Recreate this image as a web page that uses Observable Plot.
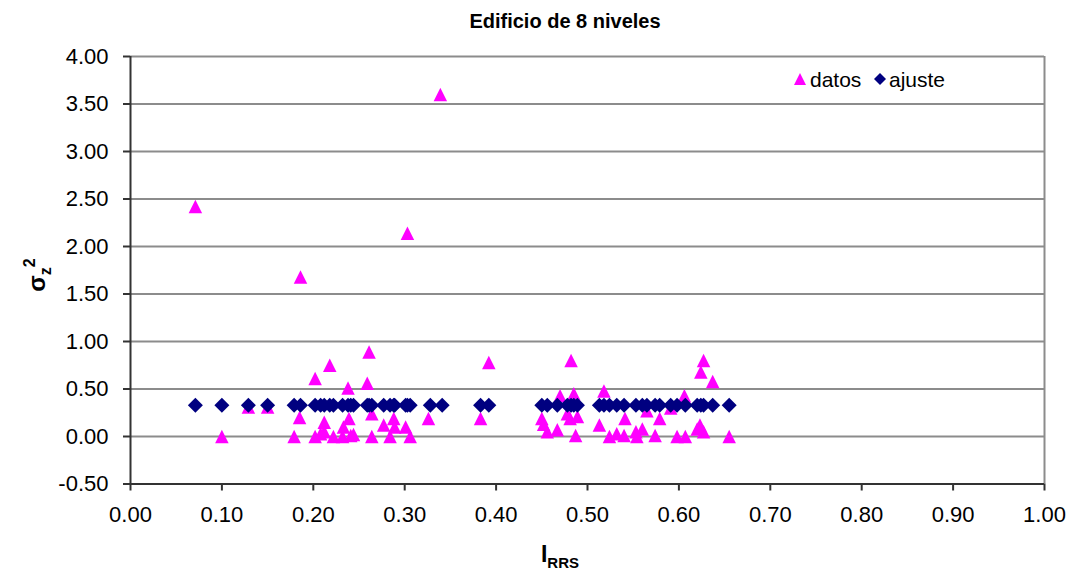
<!DOCTYPE html>
<html>
<head>
<meta charset="utf-8">
<script src="https://cdn.jsdelivr.net/npm/d3@7"></script>
<script src="https://cdn.jsdelivr.net/npm/@observablehq/plot@0.6"></script>
<style>
  body { margin: 0; background: #fff; }
  #chart { width: 1076px; height: 577px; }
</style>
</head>
<body>
<div id="chart"></div>
<script>
// Texts
const titulo = "Edificio de 8 niveles";
const serieDatos = "datos";
const serieAjuste = "ajuste";

// Axis ticks
const xTicks = [0, 0.1, 0.2, 0.3, 0.4, 0.5, 0.6, 0.7, 0.8, 0.9, 1.0];
const yTicks = [-0.5, 0, 0.5, 1.0, 1.5, 2.0, 2.5, 3.0, 3.5, 4.0];

// Observed values (I_RRS, sigma_z^2)
const datosX = [0.071, 0.100, 0.129, 0.150, 0.179, 0.185, 0.186, 0.202, 0.202, 0.208,
  0.212, 0.212, 0.218, 0.222, 0.232, 0.233, 0.238, 0.239, 0.241, 0.244,
  0.259, 0.261, 0.264, 0.264, 0.277, 0.284, 0.288, 0.289, 0.301, 0.303,
  0.306, 0.326, 0.339, 0.383, 0.392, 0.450, 0.452, 0.456, 0.467, 0.470,
  0.478, 0.481, 0.482, 0.485, 0.487, 0.489, 0.513, 0.518, 0.524, 0.532,
  0.540, 0.541, 0.553, 0.554, 0.560, 0.565, 0.574, 0.579, 0.591, 0.598,
  0.606, 0.607, 0.620, 0.623, 0.624, 0.627, 0.627, 0.637, 0.655];
const datosY = [2.42, 0.00, 0.31, 0.31, 0.00, 0.20, 1.68, 0.61, 0.00, 0.03,
  0.05, 0.15, 0.75, 0.00, 0.00, 0.10, 0.51, 0.19, 0.01, 0.02,
  0.56, 0.89, 0.24, 0.00, 0.12, 0.00, 0.19, 0.10, 0.10, 2.14,
  0.00, 0.19, 3.60, 0.19, 0.78, 0.19, 0.13, 0.05, 0.07, 0.43,
  0.24, 0.19, 0.80, 0.45, 0.01, 0.21, 0.12, 0.48, 0.00, 0.03,
  0.01, 0.19, 0.05, 0.00, 0.08, 0.27, 0.01, 0.19, 0.30, 0.00,
  0.43, 0.00, 0.08, 0.12, 0.68, 0.80, 0.05, 0.58, 0.00];

// Fitted values: constant fit evaluated at each I_RRS
const ajusteX = [0.071, 0.100, 0.129, 0.150, 0.179, 0.186, 0.202, 0.208, 0.212, 0.218,
  0.222, 0.232, 0.238, 0.241, 0.244, 0.259, 0.261, 0.264, 0.277, 0.284,
  0.288, 0.289, 0.301, 0.303, 0.306, 0.328, 0.341, 0.383, 0.392, 0.450,
  0.456, 0.467, 0.478, 0.482, 0.485, 0.489, 0.513, 0.518, 0.524, 0.532,
  0.540, 0.553, 0.560, 0.565, 0.574, 0.579, 0.591, 0.598, 0.607, 0.620,
  0.624, 0.627, 0.637, 0.655];
const ajusteValor = 0.33;

const datos = datosX.map((x, i) => ({x, y: datosY[i]}));
const ajuste = ajusteX.map(x => ({x, y: ajusteValor}));

// Marker shapes (width = sqrt(size))
const triangulo = {
  draw(ctx, size) {
    const w = Math.sqrt(size) / 2;
    ctx.moveTo(0, -w);
    ctx.lineTo(w, w);
    ctx.lineTo(-w, w);
    ctx.closePath();
  }
};
const rombo = {
  draw(ctx, size) {
    const w = Math.sqrt(size) / 2;
    ctx.moveTo(0, -w);
    ctx.lineTo(w, 0);
    ctx.lineTo(0, w);
    ctx.lineTo(-w, 0);
    ctx.closePath();
  }
};
const rDe = px => px / Math.sqrt(Math.PI);

const magenta = "#FF00FF";
const azul = "#000080";
const fmt = d => d.toFixed(2);
const fuente = "'Liberation Sans', Arial, sans-serif";

const chart = Plot.plot({
  width: 1076,
  height: 577,
  marginLeft: 130,
  marginRight: 32,
  marginTop: 56,
  marginBottom: 93.5,
  style: {fontFamily: fuente, fontSize: "22px", background: "#fff", color: "#000", overflow: "visible"},
  x: {domain: [0, 1], label: null},
  y: {domain: [-0.5, 4], label: null},
  marks: [
    Plot.gridY(yTicks, {stroke: "#8c8c8c", strokeOpacity: 1, strokeWidth: 2}),
    Plot.ruleX([1], {stroke: "#8c8c8c", strokeWidth: 2}),
    Plot.axisY(yTicks, {tickSize: 7, tickPadding: 15, tickFormat: fmt, stroke: "#333", strokeWidth: 2, fill: "#000", label: null}),
    Plot.axisX(xTicks, {tickSize: 7, tickPadding: 15, tickFormat: fmt, stroke: "#333", strokeWidth: 2, fill: "#000", label: null}),
    Plot.ruleX([0], {stroke: "#333", strokeWidth: 2}),
    Plot.ruleY([-0.5], {stroke: "#333", strokeWidth: 2}),
    Plot.dot(datos, {x: "x", y: "y", symbol: triangulo, r: rDe(13.5), fill: magenta, stroke: null}),
    Plot.dot(ajuste, {x: "x", y: "y", symbol: rombo, r: rDe(15), fill: azul, stroke: null})
  ]
});

const svg = d3.select(chart);

// Title
svg.append("text")
  .attr("x", 565).attr("y", 28)
  .attr("text-anchor", "middle")
  .attr("font-family", fuente).attr("font-size", 20).attr("font-weight", "bold")
  .text(titulo);

// Y axis label: sigma_z^2
const ylab = svg.append("text")
  .attr("transform", "translate(45,275) rotate(-90)")
  .attr("text-anchor", "middle")
  .attr("font-family", fuente).attr("font-size", 24).attr("font-weight", "bold");
ylab.append("tspan").text("σ");
ylab.append("tspan").attr("font-size", 16).attr("dy", 6).text("z");
ylab.append("tspan").attr("font-size", 16).attr("dy", -16).text("2");

// X axis label: I_RRS
const xlab = svg.append("text")
  .attr("x", 560).attr("y", 562)
  .attr("text-anchor", "middle")
  .attr("font-family", fuente).attr("font-size", 23).attr("font-weight", "bold");
xlab.append("tspan").text("I");
xlab.append("tspan").attr("font-size", 15).attr("dy", 6).text("RRS");

// Legend
const ley = svg.append("g")
  .attr("font-family", fuente).attr("font-size", 21).attr("text-anchor", "start");
ley.append("path").attr("d", d3.symbol(triangulo, 12 * 12)()).attr("transform", "translate(800,79)").attr("fill", magenta);
ley.append("text").attr("x", 810).attr("y", 87).attr("text-anchor", "start").text(serieDatos);
ley.append("path").attr("d", d3.symbol(rombo, 12 * 12)()).attr("transform", "translate(880,79)").attr("fill", azul);
ley.append("text").attr("x", 889).attr("y", 87).attr("text-anchor", "start").text(serieAjuste);

document.getElementById("chart").append(chart);
</script>
</body>
</html>
